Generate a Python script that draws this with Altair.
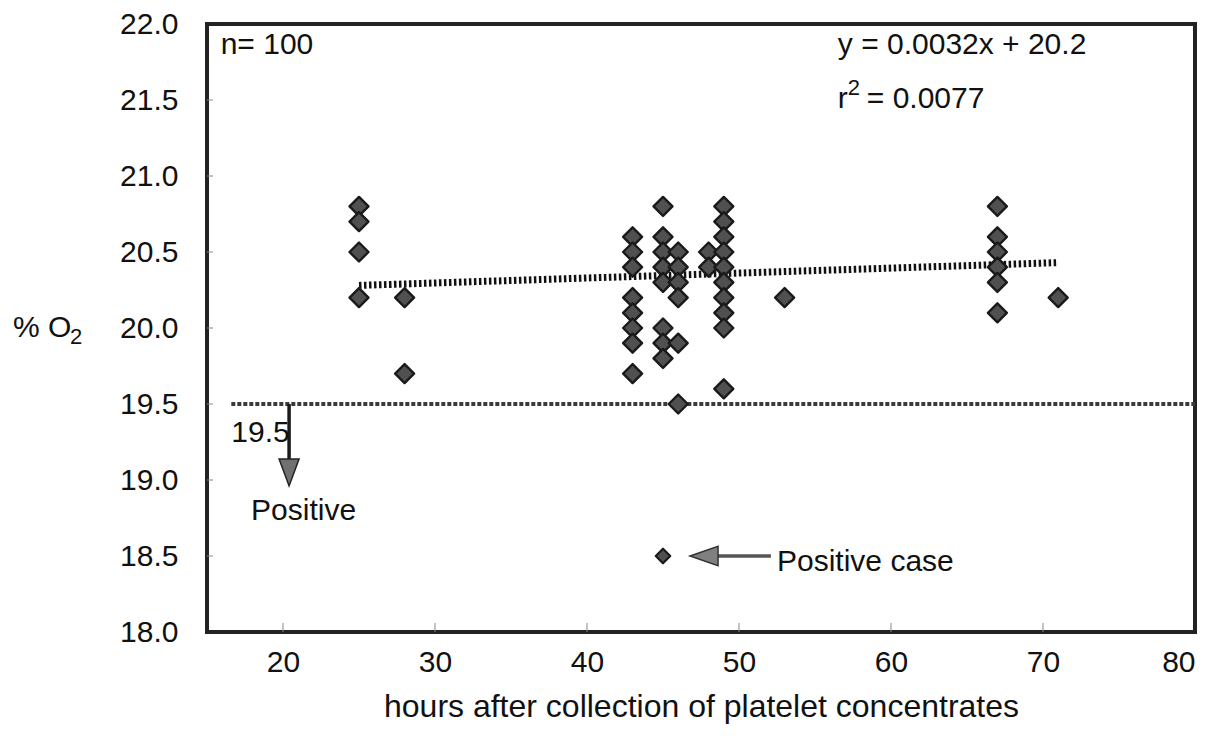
import altair as alt
import pandas as pd

# ---- data ----
hours = [25, 25, 25, 25,
         28, 28,
         43, 43, 43, 43, 43, 43, 43, 43,
         45, 45, 45, 45, 45, 45, 45, 45,
         46, 46, 46, 46, 46, 46,
         48, 48,
         49, 49, 49, 49, 49, 49, 49, 49, 49, 49,
         53,
         67, 67, 67, 67, 67, 67,
         71]
o2 = [20.8, 20.7, 20.5, 20.2,
      20.2, 19.7,
      20.6, 20.5, 20.4, 20.2, 20.1, 20.0, 19.9, 19.7,
      20.8, 20.6, 20.5, 20.4, 20.3, 20.0, 19.9, 19.8,
      20.5, 20.4, 20.3, 20.2, 19.9, 19.5,
      20.5, 20.4,
      20.8, 20.7, 20.6, 20.5, 20.4, 20.3, 20.2, 20.1, 20.0, 19.6,
      20.2,
      20.8, 20.6, 20.5, 20.4, 20.3, 20.1,
      20.2]

pos_hours = [45]
pos_o2 = [18.5]

trend_hours = [25, 71]
trend_o2 = [20.28, 20.43]

cutoff_hours = [16.6, 80]
cutoff_o2 = [19.5, 19.5]

x_ticks = [20, 30, 40, 50, 60, 70, 80]
y_ticks = [18.0, 18.5, 19.0, 19.5, 20.0, 20.5, 21.0, 21.5, 22.0]

# arrows (data coordinates)
down_arrow_hours = [20.4, 20.4]
down_arrow_o2 = [19.5, 19.13]
down_head = {"hours": [20.4], "o2": [19.05]}
left_arrow_hours = [48.5, 52.1]
left_arrow_o2 = [18.5, 18.5]
left_head = {"hours": [47.7], "o2": [18.5]}

# text annotations
ann_text = ["n= 100", "y = 0.0032x + 20.2", "19.5", "Positive", "Positive case"]
ann_hours = [15.9, 56.5, 16.6, 17.9, 52.5]
ann_o2 = [21.80, 21.80, 19.25, 18.74, 18.40]

W, H = 988, 608
FONT = "Liberation Sans"

xs = alt.Scale(domain=[15, 80], nice=False, zero=False)
ys = alt.Scale(domain=[18, 22], nice=False, zero=False)

pts = pd.DataFrame({"hours": hours, "o2": o2})

base_x = alt.X("hours:Q", scale=xs,
               axis=alt.Axis(values=x_ticks, title="hours after collection of platelet concentrates",
                             labelFontSize=30, titleFontSize=32, labelFont=FONT, titleFont=FONT,
                             titleFontWeight="normal", labelColor="#111", titleColor="#111",
                             domain=False, ticks=False, tickSize=0, grid=False,
                             labelPadding=15, titlePadding=14, format="d"))
base_y = alt.Y("o2:Q", scale=ys,
               axis=alt.Axis(values=y_ticks, title=None, format=".1f",
                             labelFontSize=30, labelFont=FONT, labelColor="#111",
                             domain=False, ticks=False, tickSize=0, grid=False,
                             labelPadding=29))

points = alt.Chart(pts).mark_point(shape="diamond", filled=True, size=360,
                                   fill="#505050", stroke="#1a1a1a", strokeWidth=2.4,
                                   strokeJoin="round", opacity=1).encode(x=base_x, y=base_y)

pos = alt.Chart(pd.DataFrame({"hours": pos_hours, "o2": pos_o2})).mark_point(
    shape="diamond", filled=True, size=210, fill="#505050", stroke="#1a1a1a",
    strokeWidth=2.2, strokeJoin="round", opacity=1).encode(x="hours:Q", y="o2:Q")

trend = alt.Chart(pd.DataFrame({"hours": trend_hours, "o2": trend_o2})).mark_line(
    color="#111111", strokeWidth=7, strokeDash=[2.5, 2.5]).encode(x="hours:Q", y="o2:Q")

cutoff = alt.Chart(pd.DataFrame({"hours": cutoff_hours, "o2": cutoff_o2})).mark_line(
    color="#3a3a3a", strokeWidth=4, strokeDash=[4, 2]).encode(x="hours:Q", y="o2:Q")

down_line = alt.Chart(pd.DataFrame({"hours": down_arrow_hours, "o2": down_arrow_o2})).mark_line(
    color="#1a1a1a", strokeWidth=3.5).encode(x="hours:Q", y="o2:Q")
down_tri = alt.Chart(pd.DataFrame(down_head)).mark_point(
    shape="M-0.74,-1L0.74,-1L0,1Z", size=729, filled=True, fill="#707070",
    stroke="#222222", strokeWidth=1.5, opacity=1).encode(x="hours:Q", y="o2:Q")

left_line = alt.Chart(pd.DataFrame({"hours": left_arrow_hours, "o2": left_arrow_o2})).mark_line(
    color="#555555", strokeWidth=3.5).encode(x="hours:Q", y="o2:Q")
left_tri = alt.Chart(pd.DataFrame(left_head)).mark_point(
    shape="M-1,0L1,-0.7L1,0.7Z", size=784, filled=True, fill="#808080",
    stroke="#333333", strokeWidth=1.5, opacity=1).encode(x="hours:Q", y="o2:Q")

ann = alt.Chart(pd.DataFrame({"t": ann_text, "hours": ann_hours, "o2": ann_o2})).mark_text(
    align="left", baseline="alphabetic", fontSize=30, font=FONT, color="#111").encode(
    x="hours:Q", y="o2:Q", text="t:N")

# r^2 label with superscript
r2_df = pd.DataFrame({"hours": [56.5], "o2": [21.45]})
r_txt = alt.Chart(r2_df).mark_text(align="left", baseline="alphabetic", fontSize=30,
                                   font=FONT, color="#111", text="r").encode(x="hours:Q", y="o2:Q")
r_sup = alt.Chart(r2_df).mark_text(align="left", baseline="alphabetic", fontSize=22,
                                   font=FONT, color="#111", text="2", dx=10, dy=-13).encode(x="hours:Q", y="o2:Q")
r_val = alt.Chart(r2_df).mark_text(align="left", baseline="alphabetic", fontSize=30,
                                   font=FONT, color="#111", text="= 0.0077", dx=29).encode(x="hours:Q", y="o2:Q")

# y-axis title "% O2" with subscript
yt_df = pd.DataFrame({"o2": [20.0]})
yt_main = alt.Chart(yt_df).mark_text(align="left", baseline="middle", fontSize=30, font=FONT,
                                     color="#111", text="% O").encode(x=alt.value(-194), y="o2:Q")
yt_sub = alt.Chart(yt_df).mark_text(align="left", baseline="middle", fontSize=22, font=FONT,
                                    color="#111", text="2", dy=9).encode(x=alt.value(-137), y="o2:Q")

# inward tick marks
ytk = alt.Chart(pd.DataFrame({"o2": y_ticks[1:-1]})).mark_rule(color="#888", strokeWidth=1).encode(
    y="o2:Q", x=alt.value(0), x2=alt.value(6))
xtk = alt.Chart(pd.DataFrame({"hours": x_ticks[:-1]})).mark_rule(color="#888", strokeWidth=1).encode(
    x="hours:Q", y=alt.value(H), y2=alt.value(H - 9))

chart = alt.layer(cutoff, trend, points, pos, down_line, down_tri, left_line, left_tri,
                  ann, r_txt, r_sup, r_val, yt_main, yt_sub, ytk, xtk).properties(
    width=W, height=H,
    background="white",
    autosize=alt.AutoSizeParams(type="none"),
    padding={"left": 199, "top": 16, "right": 15, "bottom": 96},
).configure_view(stroke="#222222", strokeWidth=4)

chart.save("out.html", embed_options={"renderer": "svg", "actions": False})
